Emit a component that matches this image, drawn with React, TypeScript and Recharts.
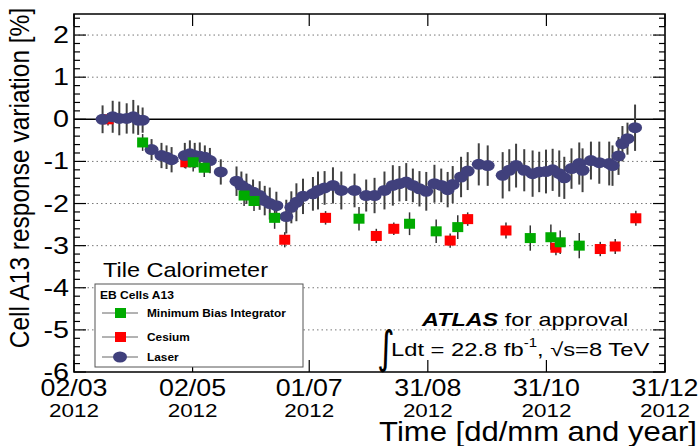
import React from 'react'
import {
  ScatterChart,
  Scatter,
  XAxis,
  YAxis,
  ErrorBar,
  ReferenceLine,
  ReferenceArea,
} from 'recharts'

// days counted from 02/03/2012
const laserDays = [
  14.7, 19.9, 23.3, 27.1, 30.5, 33.0, 35.3, 39.9, 45.0, 47.6, 50.2, 57.0, 59.6,
  62.1, 64.7, 67.3, 69.9, 75.5, 83.6, 86.1, 88.7, 92.1, 95.5, 98.1, 100.7, 104.1,
  109.2, 111.8, 114.4, 117.8, 122.9, 125.5, 128.9, 133.2, 137.5, 144.3, 150.3,
  154.6, 159.7, 164.0, 167.4, 170.9, 174.3, 177.7, 181.2, 185.4, 188.9, 192.2,
  194.8, 199.1, 202.5, 208.2, 212.8, 220.5, 223.9, 227.4, 231.6, 235.9, 239.3,
  242.8, 246.2, 249.6, 252.2, 255.9, 259.9, 261.6, 265.9, 270.2, 275.3, 277.0,
  280.1, 282.1, 284.7, 288.6,
]
const laserValues = [
  0.0, 0.06, 0.02, 0.02, 0.06, -0.02, -0.02, -0.72, -0.86, -0.9, -0.96, -0.86,
  -0.82, -0.86, -0.88, -0.9, -0.98, -1.25, -1.47, -1.57, -1.65, -1.73, -1.81,
  -1.93, -2.0, -2.05, -2.31, -2.09, -1.97, -1.83, -1.77, -1.69, -1.63, -1.57,
  -1.69, -1.69, -1.81, -1.81, -1.69, -1.57, -1.53, -1.49, -1.57, -1.65, -1.71,
  -1.53, -1.57, -1.67, -1.55, -1.37, -1.23, -1.07, -1.1, -1.33, -1.21, -1.1,
  -1.21, -1.29, -1.25, -1.24, -1.2, -1.29, -1.39, -1.17, -1.05, -1.21, -0.98,
  -1.03, -1.05, -1.1, -0.87, -0.58, -0.46, -0.2,
]
const laserErrors = [
  0.33, 0.38, 0.4, 0.36, 0.4, 0.35, 0.3, 0.25, 0.3, 0.28, 0.3, 0.3, 0.32, 0.3,
  0.33, 0.28, 0.3, 0.3, 0.35, 0.33, 0.36, 0.3, 0.34, 0.35, 0.38, 0.33, 0.4, 0.38,
  0.45, 0.42, 0.4, 0.45, 0.4, 0.43, 0.45, 0.4, 0.38, 0.42, 0.45, 0.48, 0.42,
  0.45, 0.4, 0.42, 0.46, 0.45, 0.4, 0.42, 0.44, 0.48, 0.45, 0.5, 0.48, 0.55, 0.5,
  0.52, 0.5, 0.55, 0.48, 0.52, 0.5, 0.55, 0.5, 0.48, 0.5, 0.52, 0.45, 0.5, 0.52,
  0.48, 0.45, 0.42, 0.38, 0.55,
]

const cesiumDays = [
  17.5, 57.5, 108.4, 129.4, 155.5, 164.5, 193.5, 202.5, 222.2, 247.9, 270.7,
  278.4, 289.0,
]
const cesiumValues = [
  0.0, -1.02, -2.86, -2.34, -2.77, -2.6, -2.88, -2.37, -2.64, -3.05, -3.08,
  -3.02, -2.35,
]
const cesiumErrors = [
  0.15, 0.15, 0.18, 0.16, 0.17, 0.15, 0.17, 0.16, 0.19, 0.18, 0.17, 0.18, 0.18,
]

const mbiDays = [
  35.3, 61.3, 67.0, 87.5, 92.6, 103.2, 146.6, 172.6, 186.3, 197.4, 234.7, 245.3,
  250.1, 259.9,
]
const mbiValues = [
  -0.55, -1.02, -1.15, -1.81, -1.94, -2.34, -2.36, -2.48, -2.66, -2.56, -2.82,
  -2.8, -2.92, -3.0,
]
const mbiErrors = [
  0.2, 0.22, 0.22, 0.25, 0.24, 0.26, 0.28, 0.27, 0.28, 0.28, 0.3, 0.3, 0.28, 0.3,
]

const xTicks = [0, 61, 121, 182, 243, 304]
const xTickDates = ['02/03', '02/05', '01/07', '31/08', '31/10', '31/12']
const xTickYears = ['2012', '2012', '2012', '2012', '2012', '2012']
const yMajorTicks = [-6, -5, -4, -3, -2, -1, 0, 1, 2]

const yTicks: number[] = []
for (let i = 0; i <= 42; i++) yTicks.push(Math.round((-6 + i * 0.2) * 10) / 10)

const W = 699
const H = 446
const FRAME = { left: 74, right: 665, top: 14, bottom: 372 }
const FONT = 'Liberation Sans, Arial, Helvetica, sans-serif'
const BLUE = '#40407c'
const GREEN = '#00aa00'
const RED = '#ff0000'

const rows = (days: number[], values: number[], errs: number[]) =>
  days.map((d, i) => ({ day: d, value: values[i], err: errs[i] }))

const laserData = rows(laserDays, laserValues, laserErrors)
const cesiumData = rows(cesiumDays, cesiumValues, cesiumErrors)
const mbiData = rows(mbiDays, mbiValues, mbiErrors)

// stretched text, the original picture is wider than it was drawn
function SText({
  x,
  y,
  size,
  sx = 1,
  anchor = 'start',
  weight = 'normal',
  style = 'normal',
  rotate = 0,
  children,
}: any) {
  return (
    <g transform={`translate(${x},${y}) scale(${sx},1) rotate(${rotate})`}>
      <text
        x={0}
        y={0}
        fontFamily={FONT}
        fontSize={size}
        fontWeight={weight}
        fontStyle={style}
        textAnchor={anchor}
        fill="#000"
      >
        {children}
      </text>
    </g>
  )
}

function YTick(props: any) {
  const { y, payload } = props
  const v = payload.value
  const major = yMajorTicks.includes(v)
  const len = major ? 12 : 6
  return (
    <g>
      <line x1={FRAME.left} x2={FRAME.left + len} y1={y} y2={y} stroke="#000" strokeWidth={1.2} />
      <line x1={FRAME.right - len} x2={FRAME.right} y1={y} y2={y} stroke="#000" strokeWidth={1.2} />
      {major && (
        <SText x={69} y={y + 8} size={23} sx={1.25} anchor="end">
          {v}
        </SText>
      )}
    </g>
  )
}

function XTick(props: any) {
  const { x, payload, index } = props
  return (
    <g>
      <line x1={x} x2={x} y1={FRAME.bottom} y2={FRAME.bottom - 12} stroke="#000" strokeWidth={1.2} />
      <line x1={x} x2={x} y1={FRAME.top} y2={FRAME.top + 12} stroke="#000" strokeWidth={1.2} />
      <SText x={x} y={396} size={23.5} sx={1.14} anchor="middle">
        {xTickDates[index] ?? payload.value}
      </SText>
      <SText x={x} y={417} size={19} sx={1.18} anchor="middle">
        {xTickYears[index]}
      </SText>
    </g>
  )
}

const LaserDot = (p: any) => <ellipse cx={p.cx} cy={p.cy} rx={7} ry={5.5} fill={BLUE} />
const squareDot = (color: string) => (p: any) =>
  <rect x={p.cx - 5.5} y={p.cy - 5} width={11} height={10} fill={color} />

function Overlay() {
  const items = [
    { label: 'Minimum Bias Integrator', color: GREEN, y: 313, kind: 'sq' },
    { label: 'Cesium', color: RED, y: 337, kind: 'sq' },
    { label: 'Laser', color: BLUE, y: 357, kind: 'dot' },
  ]
  return (
    <svg
      width={W}
      height={H}
      style={{ position: 'absolute', left: 0, top: 0, pointerEvents: 'none' }}
    >
      {/* y axis title */}
      <SText x={29} y={178} size={24.5} sx={1.1} anchor="middle" rotate={-90}>
        Cell A13 response variation [%]
      </SText>
      {/* x axis title */}
      <SText x={697} y={441} size={27} sx={1.15} anchor="end">
        Time [dd/mm and year]
      </SText>

      <SText x={103} y={277} size={21} sx={1.12}>
        Tile Calorimeter
      </SText>

      <rect x={95} y={284} width={208} height={83} fill="#fff" stroke="#555" strokeWidth={1} />
      <SText x={100} y={299} size={10.5} sx={1.15} weight="bold">
        EB Cells A13
      </SText>
      {items.map((it) => (
        <g key={it.label}>
          <line x1={102} x2={138} y1={it.y} y2={it.y} stroke="#666" strokeWidth={1} />
          {it.kind === 'sq' ? (
            <rect x={115} y={it.y - 5} width={11} height={10} fill={it.color} />
          ) : (
            <ellipse cx={120} cy={it.y} rx={7} ry={5.5} fill={it.color} />
          )}
          <SText x={147} y={it.y + 4} size={10.5} sx={1.13} weight="bold">
            {it.label}
          </SText>
        </g>
      ))}

      <g transform="translate(422,326) scale(1.3,1)">
        <text x={0} y={0} fontFamily={FONT} fontSize={18} fill="#000">
          <tspan fontWeight="bold" fontStyle="italic">ATLAS</tspan>
          <tspan> for approval</tspan>
        </text>
      </g>
      <g transform="translate(377,363) scale(0.75,1)">
        <text x={0} y={0} fontFamily="DejaVu Sans, sans-serif" fontSize={45} fill="#000">
          ∫
        </text>
      </g>
      <g transform="translate(391,356) scale(1.25,1)">
        <text x={0} y={0} fontFamily={FONT} fontSize={19} fill="#000">
          <tspan>Ldt = 22.8 fb</tspan>
          <tspan fontSize={12} dy={-9}>-1</tspan>
          <tspan dy={9}>, √s=8 TeV</tspan>
        </text>
      </g>
    </svg>
  )
}

export default function App() {
  return (
    <div
      style={{
        position: 'absolute',
        left: 0,
        top: 0,
        width: W,
        height: H,
        background: '#fff',
      }}
    >
      <ScatterChart
        width={W}
        height={H}
        margin={{ top: FRAME.top, right: W - FRAME.right, left: 0, bottom: 0 }}
      >
        <XAxis
          type="number"
          dataKey="day"
          domain={[0, 304]}
          ticks={xTicks}
          interval={0}
          height={H - FRAME.bottom}
          tick={<XTick />}
          tickLine={false}
          axisLine={false}
          allowDataOverflow
        />
        <YAxis
          type="number"
          dataKey="value"
          domain={[-6, 2.5]}
          ticks={yTicks}
          interval={0}
          width={FRAME.left}
          tick={<YTick />}
          tickLine={false}
          axisLine={false}
          allowDataOverflow
        />
        {yMajorTicks
          .filter((v) => v !== 0 && v !== -6)
          .map((v) => (
            <ReferenceLine
              key={v}
              y={v}
              stroke="#777"
              strokeWidth={1}
              strokeDasharray="1.5 3"
            />
          ))}
        <ReferenceLine y={0} stroke="#000" strokeWidth={1.6} />
        <ReferenceArea
          x1={0}
          x2={304}
          y1={-6}
          y2={2.5}
          fill="none"
          fillOpacity={0}
          stroke="#000"
          strokeWidth={1.6}
        />
        <Scatter data={cesiumData} shape={squareDot(RED)} isAnimationActive={false}>
          <ErrorBar dataKey="err" direction="y" width={0} stroke="#333" strokeWidth={1.5} />
        </Scatter>
        <Scatter data={laserData} shape={LaserDot} isAnimationActive={false}>
          <ErrorBar dataKey="err" direction="y" width={0} stroke="#404040" strokeWidth={2} />
        </Scatter>
        <Scatter data={mbiData} shape={squareDot(GREEN)} isAnimationActive={false}>
          <ErrorBar dataKey="err" direction="y" width={0} stroke="#333" strokeWidth={1.5} />
        </Scatter>
      </ScatterChart>
      <Overlay />
    </div>
  )
}
